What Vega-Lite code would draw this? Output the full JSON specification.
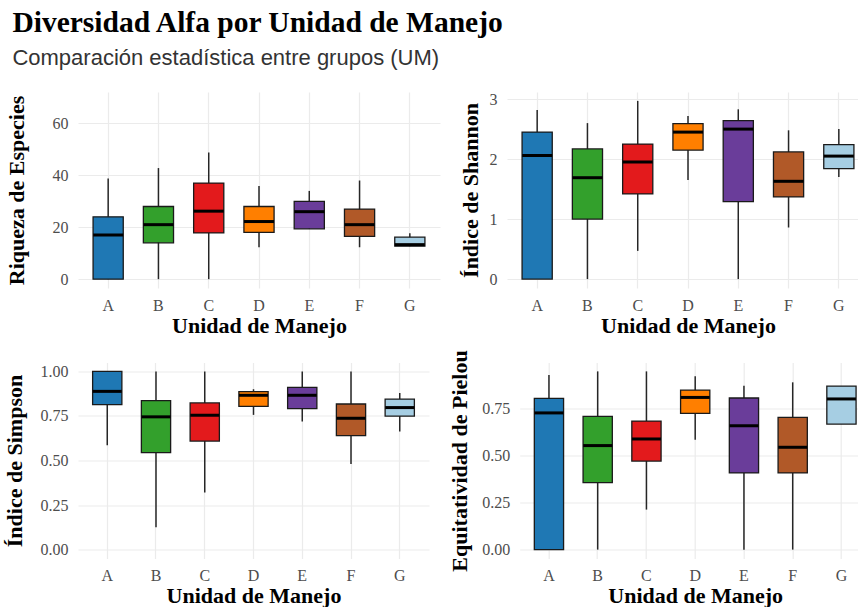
{
  "$schema": "https://vega.github.io/schema/vega-lite/v6.json",
  "padding": {"left": 3, "top": 7, "right": 0, "bottom": 0},
  "title": {
    "text": "Diversidad Alfa por Unidad de Manejo",
    "subtitle": "Comparación estadística entre grupos (UM)",
    "anchor": "start",
    "frame": "bounds",
    "dx": 9,
    "font": "Liberation Serif",
    "fontSize": 29.5,
    "fontWeight": "bold",
    "color": "#000000",
    "subtitleFont": "Liberation Sans",
    "subtitleFontSize": 22,
    "subtitleColor": "#333333",
    "subtitlePadding": 10,
    "offset": 21
  },
  "data": {
    "values": [
      {"metric": "Riqueza", "UM": "A", "lower": 0, "q1": 0, "median": 17, "q3": 24, "upper": 38.8},
      {"metric": "Riqueza", "UM": "B", "lower": 0, "q1": 14, "median": 21, "q3": 28, "upper": 42.8},
      {"metric": "Riqueza", "UM": "C", "lower": 0, "q1": 17.8, "median": 26.2, "q3": 37, "upper": 48.8},
      {"metric": "Riqueza", "UM": "D", "lower": 12.3, "q1": 18, "median": 22.2, "q3": 28, "upper": 35.9},
      {"metric": "Riqueza", "UM": "E", "lower": 19.4, "q1": 19.4, "median": 26, "q3": 30, "upper": 34},
      {"metric": "Riqueza", "UM": "F", "lower": 12.3, "q1": 16.5, "median": 21, "q3": 27, "upper": 38},
      {"metric": "Riqueza", "UM": "G", "lower": 12.7, "q1": 12.7, "median": 13.3, "q3": 16.2, "upper": 17.7},
      {"metric": "Shannon", "UM": "A", "lower": 0, "q1": 0, "median": 2.06, "q3": 2.45, "upper": 2.82},
      {"metric": "Shannon", "UM": "B", "lower": 0, "q1": 1.0, "median": 1.69, "q3": 2.17, "upper": 2.6},
      {"metric": "Shannon", "UM": "C", "lower": 0.47, "q1": 1.42, "median": 1.95, "q3": 2.25, "upper": 2.97},
      {"metric": "Shannon", "UM": "D", "lower": 1.65, "q1": 2.15, "median": 2.45, "q3": 2.59, "upper": 2.72},
      {"metric": "Shannon", "UM": "E", "lower": 0, "q1": 1.29, "median": 2.5, "q3": 2.64, "upper": 2.83},
      {"metric": "Shannon", "UM": "F", "lower": 0.86, "q1": 1.37, "median": 1.63, "q3": 2.12, "upper": 2.48},
      {"metric": "Shannon", "UM": "G", "lower": 1.7, "q1": 1.84, "median": 2.05, "q3": 2.24, "upper": 2.5},
      {"metric": "Simpson", "UM": "A", "lower": 0.585, "q1": 0.814, "median": 0.888, "q3": 1.0, "upper": 1.0},
      {"metric": "Simpson", "UM": "B", "lower": 0.125, "q1": 0.544, "median": 0.745, "q3": 0.836, "upper": 1.0},
      {"metric": "Simpson", "UM": "C", "lower": 0.32, "q1": 0.609, "median": 0.754, "q3": 0.823, "upper": 1.0},
      {"metric": "Simpson", "UM": "D", "lower": 0.756, "q1": 0.804, "median": 0.866, "q3": 0.886, "upper": 0.9},
      {"metric": "Simpson", "UM": "E", "lower": 0.719, "q1": 0.791, "median": 0.866, "q3": 0.91, "upper": 1.0},
      {"metric": "Simpson", "UM": "F", "lower": 0.48, "q1": 0.64, "median": 0.737, "q3": 0.817, "upper": 1.0},
      {"metric": "Simpson", "UM": "G", "lower": 0.663, "q1": 0.749, "median": 0.797, "q3": 0.845, "upper": 0.879},
      {"metric": "Pielou", "UM": "A", "lower": 0, "q1": 0, "median": 0.724, "q3": 0.801, "upper": 0.925},
      {"metric": "Pielou", "UM": "B", "lower": 0, "q1": 0.355, "median": 0.551, "q3": 0.706, "upper": 0.944},
      {"metric": "Pielou", "UM": "C", "lower": 0.212, "q1": 0.469, "median": 0.586, "q3": 0.681, "upper": 0.944},
      {"metric": "Pielou", "UM": "D", "lower": 0.582, "q1": 0.722, "median": 0.806, "q3": 0.845, "upper": 0.918},
      {"metric": "Pielou", "UM": "E", "lower": 0, "q1": 0.406, "median": 0.656, "q3": 0.803, "upper": 0.868},
      {"metric": "Pielou", "UM": "F", "lower": 0, "q1": 0.406, "median": 0.542, "q3": 0.7, "upper": 0.886},
      {"metric": "Pielou", "UM": "G", "lower": 0.665, "q1": 0.665, "median": 0.798, "q3": 0.866, "upper": 0.866}
    ]
  },
  "spacing": 13.5,
  "vconcat": [
    {
      "spacing": 67,
      "bounds": "flush",
      "hconcat": [
        {
          "width": 362, "height": 196,
          "transform": [{"filter": "datum.metric === 'Riqueza'"}],
          "encoding": {
            "x": {"field": "UM", "type": "nominal", "scale": {"paddingInner": 0.4, "paddingOuter": 0.3}, "axis": {"title": "Unidad de Manejo", "labelAngle": 0, "grid": true, "bandPosition": 0.5}}
          },
          "layer": [
            {"mark": {"type": "rule", "color": "#262626", "strokeWidth": 1.5},
             "encoding": {"y": {"field": "lower", "type": "quantitative", "title": "Riqueza de Especies", "scale": {"domain": [-3.4, 72.1], "nice": false, "zero": false}, "axis": {"values": [0, 20, 40, 60], "titleX": -50}}, "y2": {"field": "upper"}}},
            {"mark": {"type": "bar", "stroke": "#1a1a1a", "strokeWidth": 1.3},
             "encoding": {"y": {"field": "q1", "type": "quantitative", "title": "Riqueza de Especies"}, "y2": {"field": "q3"},
               "color": {"field": "UM", "type": "nominal", "legend": null, "scale": {"domain": ["A", "B", "C", "D", "E", "F", "G"], "range": ["#1F78B4", "#33A02C", "#E31A1C", "#FF7F00", "#6A3D9A", "#B15928", "#A6CEE3"]}}}},
            {"mark": {"type": "tick", "color": "#000000", "thickness": 3, "size": 30, "opacity": 1},
             "encoding": {"y": {"field": "median", "type": "quantitative", "title": "Riqueza de Especies"}}}
          ]
        },
        {
          "width": 362, "height": 196,
          "transform": [{"filter": "datum.metric === 'Shannon'"}],
          "encoding": {
            "x": {"field": "UM", "type": "nominal", "scale": {"paddingInner": 0.4, "paddingOuter": 0.3}, "axis": {"title": "Unidad de Manejo", "labelAngle": 0, "grid": true, "bandPosition": 0.5}}
          },
          "layer": [
            {"mark": {"type": "rule", "color": "#262626", "strokeWidth": 1.5},
             "encoding": {"y": {"field": "lower", "type": "quantitative", "title": "Índice de Shannon", "scale": {"domain": [-0.1485, 3.1185], "nice": false, "zero": false}, "axis": {"values": [0, 1, 2, 3], "format": "d", "titleX": -24.5}}, "y2": {"field": "upper"}}},
            {"mark": {"type": "bar", "stroke": "#1a1a1a", "strokeWidth": 1.3},
             "encoding": {"y": {"field": "q1", "type": "quantitative", "title": "Índice de Shannon"}, "y2": {"field": "q3"},
               "color": {"field": "UM", "type": "nominal", "legend": null, "scale": {"domain": ["A", "B", "C", "D", "E", "F", "G"], "range": ["#1F78B4", "#33A02C", "#E31A1C", "#FF7F00", "#6A3D9A", "#B15928", "#A6CEE3"]}}}},
            {"mark": {"type": "tick", "color": "#000000", "thickness": 3, "size": 30, "opacity": 1},
             "encoding": {"y": {"field": "median", "type": "quantitative", "title": "Índice de Shannon"}}}
          ]
        }
      ]
    },
    {
      "spacing": 90.7,
      "bounds": "flush",
      "hconcat": [
        {
          "width": 351, "height": 196,
          "transform": [{"filter": "datum.metric === 'Simpson'"}],
          "encoding": {
            "x": {"field": "UM", "type": "nominal", "scale": {"paddingInner": 0.4, "paddingOuter": 0.3}, "axis": {"title": "Unidad de Manejo", "labelAngle": 0, "grid": true, "bandPosition": 0.5}}
          },
          "layer": [
            {"mark": {"type": "rule", "color": "#262626", "strokeWidth": 1.5},
             "encoding": {"y": {"field": "lower", "type": "quantitative", "title": "Índice de Simpson", "scale": {"domain": [-0.05, 1.05], "nice": false, "zero": false}, "axis": {"values": [0, 0.25, 0.5, 0.75, 1], "format": ".2f", "titleX": -51.6}}, "y2": {"field": "upper"}}},
            {"mark": {"type": "bar", "stroke": "#1a1a1a", "strokeWidth": 1.3},
             "encoding": {"y": {"field": "q1", "type": "quantitative", "title": "Índice de Simpson"}, "y2": {"field": "q3"},
               "color": {"field": "UM", "type": "nominal", "legend": null, "scale": {"domain": ["A", "B", "C", "D", "E", "F", "G"], "range": ["#1F78B4", "#33A02C", "#E31A1C", "#FF7F00", "#6A3D9A", "#B15928", "#A6CEE3"]}}}},
            {"mark": {"type": "tick", "color": "#000000", "thickness": 3, "size": 29, "opacity": 1},
             "encoding": {"y": {"field": "median", "type": "quantitative", "title": "Índice de Simpson"}}}
          ]
        },
        {
          "width": 351, "height": 196,
          "transform": [{"filter": "datum.metric === 'Pielou'"}],
          "encoding": {
            "x": {"field": "UM", "type": "nominal", "scale": {"paddingInner": 0.4, "paddingOuter": 0.3}, "axis": {"title": "Unidad de Manejo", "labelAngle": 0, "grid": true, "bandPosition": 0.5}}
          },
          "layer": [
            {"mark": {"type": "rule", "color": "#262626", "strokeWidth": 1.5},
             "encoding": {"y": {"field": "lower", "type": "quantitative", "title": "Equitatividad de Pielou", "scale": {"domain": [-0.047, 0.991], "nice": false, "zero": false}, "axis": {"values": [0, 0.25, 0.5, 0.75], "format": ".2f", "titleX": -48}}, "y2": {"field": "upper"}}},
            {"mark": {"type": "bar", "stroke": "#1a1a1a", "strokeWidth": 1.3},
             "encoding": {"y": {"field": "q1", "type": "quantitative", "title": "Equitatividad de Pielou"}, "y2": {"field": "q3"},
               "color": {"field": "UM", "type": "nominal", "legend": null, "scale": {"domain": ["A", "B", "C", "D", "E", "F", "G"], "range": ["#1F78B4", "#33A02C", "#E31A1C", "#FF7F00", "#6A3D9A", "#B15928", "#A6CEE3"]}}}},
            {"mark": {"type": "tick", "color": "#000000", "thickness": 3, "size": 29, "opacity": 1},
             "encoding": {"y": {"field": "median", "type": "quantitative", "title": "Equitatividad de Pielou"}}}
          ]
        }
      ]
    }
  ],
  "config": {
    "view": {"stroke": null},
    "axis": {
      "labelFont": "Liberation Serif",
      "labelFontSize": 16,
      "labelColor": "#4d4d4d",
      "titleFont": "Liberation Serif",
      "titleFontSize": 22,
      "titleFontWeight": "bold",
      "titleColor": "#000000",
      "domain": false,
      "ticks": false,
      "gridColor": "#ebebeb",
      "gridWidth": 1.2
    },
    "axisX": {"labelPadding": 9, "titlePadding": 2},
    "axisY": {"labelPadding": 10}
  }
}
